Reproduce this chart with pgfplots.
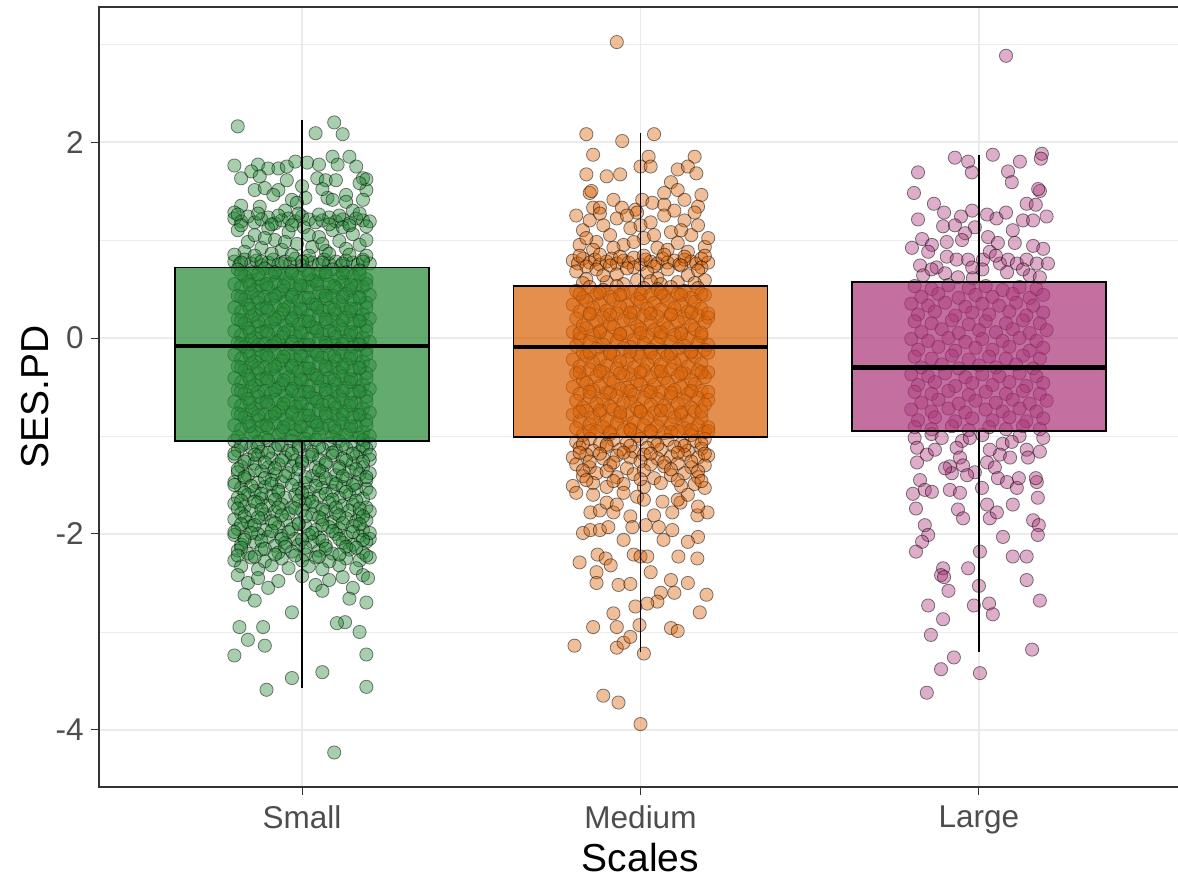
\documentclass[border=0pt]{standalone}
\usepackage{pgfplots}
\pgfplotsset{compat=1.18}
\usepgfplotslibrary{statistics}
\usepackage{fontspec}
\setmainfont{Liberation Sans}
\definecolor{cS}{HTML}{228833}
\definecolor{cM}{HTML}{D95F02}
\definecolor{cL}{HTML}{AA3377}
\definecolor{gridc}{HTML}{EBEBEB}
\definecolor{tickc}{HTML}{4D4D4D}
\definecolor{axc}{HTML}{333333}
\pgfplotsset{
  ptS/.style={only marks, mark=*, mark size=3.3pt, mark options={fill=cS, fill opacity=0.4, draw=black, draw opacity=0.5, line width=0.4pt}},
  ptM/.style={only marks, mark=*, mark size=3.3pt, mark options={fill=cM, fill opacity=0.4, draw=black, draw opacity=0.5, line width=0.4pt}},
  ptL/.style={only marks, mark=*, mark size=3.3pt, mark options={fill=cL, fill opacity=0.4, draw=black, draw opacity=0.5, line width=0.4pt}},
}
\begin{document}
\begin{tikzpicture}
\begin{axis}[
  scale only axis, width=541.5pt, height=390pt,
  xmin=0.4, xmax=3.6, ymin=-4.582, ymax=3.378,
  axis line style={draw=none},
  boxplot/draw direction=y,
  xtick={1,2,3}, xticklabels={Small,Medium,Large},
  ytick={-4,-2,0,2}, yticklabels={-4,-2,0,2},
  minor ytick={-3,-1,1,3},
  xmajorgrids, ymajorgrids, yminorgrids,
  major grid style={color=gridc, line width=0.7pt},
  minor grid style={color=gridc, line width=0.35pt},
  tick align=outside, tick pos=left,
  major tick length=4pt, minor tick length=0pt,
  tick style={color=axc, line width=0.5pt},
  ticklabel style={font=\fontsize{15.75}{18}\selectfont, text=tickc, inner sep=0pt},
  xticklabel style={anchor=north, yshift=-5pt},
  yticklabel style={anchor=east, xshift=-3.5pt},
  xlabel={Scales}, ylabel={SES.PD},
  every axis x label/.style={at={(axis description cs:0.5,-0.091)}, anchor=center, font=\fontsize{19.5}{23}\selectfont, text=black},
  every axis y label/.style={at={(axis description cs:-0.0591,0.5)}, anchor=center, rotate=90, font=\fontsize{19.5}{23}\selectfont, text=black},
  clip mode=individual,
]
\coordinate (sw) at (rel axis cs:0,0);
% ---------- Small points ----------
\addplot[ptS] coordinates {
(0.81,2.16)(1.04,2.09)(1.095,2.20)(1.12,2.08)
(0.80,1.76)(0.87,1.77)(0.90,1.73)(0.93,1.73)(0.955,1.75)(0.98,1.80)(1.015,1.79)(1.05,1.77)(1.09,1.85)(1.105,1.77)(1.14,1.85)(1.16,1.75)(1.18,1.63)(1.19,1.51)
(0.82,1.63)(0.85,1.70)(0.875,1.65)(0.86,1.51)(0.89,1.53)(0.93,1.51)(0.955,1.61)(1.045,1.63)(1.07,1.61)(1.10,1.61)(1.13,1.46)(1.075,1.43)(1.09,1.41)(1.01,1.43)(0.97,1.41)(0.915,1.46)(0.82,1.35)(1.18,1.41)(1.13,1.39)(0.985,1.38)(0.875,1.34)
(1.00,1.55)(1.06,1.52)(0.95,1.30)(1.15,1.30)(0.80,1.28)(1.19,1.62)(1.17,1.58)
(0.80,1.22)(0.82,1.19)(0.84,1.24)(0.86,1.18)(0.88,1.21)(0.90,1.23)(0.92,1.17)(0.94,1.20)(0.96,1.22)(0.98,1.19)(1.00,1.24)(1.02,1.21)(1.04,1.18)(1.06,1.20)(1.08,1.23)(1.10,1.19)(1.12,1.21)(1.14,1.17)(1.16,1.22)(1.18,1.20)(1.20,1.19)
(0.81,1.10)(0.84,0.98)(0.86,1.05)(0.88,0.92)(0.90,1.12)(0.92,1.00)(0.94,0.90)(0.96,1.08)(0.985,0.96)(1.005,1.13)(1.03,0.93)(1.05,1.03)(1.07,0.89)(1.09,1.10)(1.11,0.99)(1.13,0.91)(1.15,1.06)(1.17,0.95)(1.19,1.00)(0.83,0.88)(0.95,0.98)(1.02,1.05)(1.12,1.13)(0.89,1.02)(1.06,0.96)
(0.80,0.78)(0.815,0.75)(0.83,0.80)(0.85,0.76)(0.865,0.79)(0.88,0.74)(0.90,0.77)(0.915,0.80)(0.93,0.75)(0.95,0.78)(0.965,0.76)(0.98,0.81)(1.00,0.74)(1.015,0.79)(1.03,0.77)(1.05,0.75)(1.065,0.80)(1.08,0.76)(1.10,0.78)(1.115,0.74)(1.13,0.79)(1.15,0.77)(1.165,0.75)(1.18,0.80)(1.20,0.76)
(0.81,1.26)(0.87,1.27)(0.93,1.25)(0.99,1.27)(1.05,1.26)(1.11,1.25)(1.17,1.27)
(0.82,1.15)(0.91,1.16)(0.97,1.15)(1.08,1.16)(1.14,1.15)(1.19,1.14)
(0.80,0.85)(0.86,0.84)(0.91,0.86)(0.97,0.85)(1.02,0.84)(1.08,0.86)(1.14,0.85)(1.19,0.84)
(0.82,0.77)(0.88,0.78)(0.94,0.76)(1.00,0.78)(1.06,0.77)(1.12,0.76)(1.18,0.78)
(0.81,0.70)(0.85,0.67)(0.89,0.71)(0.93,0.66)(0.97,0.68)(1.01,0.69)(1.05,0.65)(1.09,0.70)(1.13,0.67)(1.17,0.69)
(0.83,0.63)(0.87,0.60)(0.91,0.64)(0.95,0.61)(0.99,0.62)(1.03,0.59)(1.07,0.64)(1.11,0.61)(1.15,0.63)(1.19,0.60)
(0.80,0.55)(0.84,0.58)(0.88,0.54)(0.92,0.57)(0.96,0.56)(1.00,0.53)(1.04,0.58)(1.08,0.55)(1.12,0.57)(1.16,0.54)
(0.82,0.52)(0.86,0.49)(0.90,0.51)(0.94,0.48)(0.98,0.50)(1.02,0.52)(1.06,0.47)(1.10,0.51)(1.14,0.49)(1.18,0.52)
(0.81,0.43)(0.85,0.46)(0.89,0.42)(0.93,0.45)(0.97,0.44)(1.01,0.41)(1.05,0.46)(1.09,0.43)(1.13,0.45)(1.17,0.42)(1.20,0.44)
(0.83,0.39)(0.87,0.36)(0.91,0.40)(0.95,0.37)(0.99,0.38)(1.03,0.35)(1.07,0.40)(1.11,0.37)(1.15,0.39)(1.19,0.36)
(0.80,0.31)(0.84,0.34)(0.88,0.30)(0.92,0.33)(0.96,0.32)(1.00,0.29)(1.04,0.34)(1.08,0.31)(1.12,0.33)(1.16,0.30)
(0.82,0.27)(0.86,0.24)(0.90,0.28)(0.94,0.25)(0.98,0.26)(1.02,0.23)(1.06,0.28)(1.10,0.25)(1.14,0.27)(1.18,0.24)
(0.81,0.19)(0.85,0.22)(0.89,0.18)(0.93,0.21)(0.97,0.20)(1.01,0.17)(1.05,0.22)(1.09,0.19)(1.13,0.21)(1.17,0.18)(1.20,0.20)
(0.83,0.15)(0.87,0.12)(0.91,0.16)(0.95,0.13)(0.99,0.14)(1.03,0.11)(1.07,0.16)(1.11,0.13)(1.15,0.15)(1.19,0.12)
(0.80,0.07)(0.84,0.10)(0.88,0.06)(0.92,0.09)(0.96,0.08)(1.00,0.05)(1.04,0.10)(1.08,0.07)(1.12,0.09)(1.16,0.06)
(0.82,0.03)(0.86,0.00)(0.90,0.04)(0.94,0.01)(0.98,0.02)(1.02,-0.01)(1.06,0.04)(1.10,0.01)(1.14,0.03)(1.18,0.00)
(0.81,-0.05)(0.85,-0.02)(0.89,-0.06)(0.93,-0.03)(0.97,-0.04)(1.01,-0.07)(1.05,-0.02)(1.09,-0.05)(1.13,-0.03)(1.17,-0.06)(1.20,-0.04)
(0.83,-0.09)(0.87,-0.12)(0.91,-0.08)(0.95,-0.11)(0.99,-0.10)(1.03,-0.13)(1.07,-0.08)(1.11,-0.11)(1.15,-0.09)(1.19,-0.12)
(0.80,-0.17)(0.84,-0.14)(0.88,-0.18)(0.92,-0.15)(0.96,-0.16)(1.00,-0.19)(1.04,-0.14)(1.08,-0.17)(1.12,-0.15)(1.16,-0.18)
(0.82,-0.21)(0.86,-0.24)(0.90,-0.20)(0.94,-0.23)(0.98,-0.22)(1.02,-0.25)(1.06,-0.20)(1.10,-0.23)(1.14,-0.21)(1.18,-0.24)
(0.81,-0.29)(0.85,-0.26)(0.89,-0.30)(0.93,-0.27)(0.97,-0.28)(1.01,-0.31)(1.05,-0.26)(1.09,-0.29)(1.13,-0.27)(1.17,-0.30)(1.20,-0.28)
(0.83,-0.33)(0.87,-0.36)(0.91,-0.32)(0.95,-0.35)(0.99,-0.34)(1.03,-0.37)(1.07,-0.32)(1.11,-0.35)(1.15,-0.33)(1.19,-0.36)
(0.80,-0.41)(0.84,-0.38)(0.88,-0.42)(0.92,-0.39)(0.96,-0.40)(1.00,-0.43)(1.04,-0.38)(1.08,-0.41)(1.12,-0.39)(1.16,-0.42)
(0.82,-0.45)(0.86,-0.48)(0.90,-0.44)(0.94,-0.47)(0.98,-0.46)(1.02,-0.49)(1.06,-0.44)(1.10,-0.47)(1.14,-0.45)(1.18,-0.48)
(0.81,-0.53)(0.85,-0.50)(0.89,-0.54)(0.93,-0.51)(0.97,-0.52)(1.01,-0.55)(1.05,-0.50)(1.09,-0.53)(1.13,-0.51)(1.17,-0.54)(1.20,-0.52)
(0.83,-0.57)(0.87,-0.60)(0.91,-0.56)(0.95,-0.59)(0.99,-0.58)(1.03,-0.61)(1.07,-0.56)(1.11,-0.59)(1.15,-0.57)(1.19,-0.60)
(0.80,-0.65)(0.84,-0.62)(0.88,-0.66)(0.92,-0.63)(0.96,-0.64)(1.00,-0.67)(1.04,-0.62)(1.08,-0.65)(1.12,-0.63)(1.16,-0.66)
(0.82,-0.69)(0.86,-0.72)(0.90,-0.68)(0.94,-0.71)(0.98,-0.70)(1.02,-0.73)(1.06,-0.68)(1.10,-0.71)(1.14,-0.69)(1.18,-0.72)
(0.81,-0.77)(0.85,-0.74)(0.89,-0.78)(0.93,-0.75)(0.97,-0.76)(1.01,-0.79)(1.05,-0.74)(1.09,-0.77)(1.13,-0.75)(1.17,-0.78)(1.20,-0.76)
(0.83,-0.81)(0.87,-0.84)(0.91,-0.80)(0.95,-0.83)(0.99,-0.82)(1.03,-0.85)(1.07,-0.80)(1.11,-0.83)(1.15,-0.81)(1.19,-0.84)
(0.80,-0.89)(0.84,-0.86)(0.88,-0.90)(0.92,-0.87)(0.96,-0.88)(1.00,-0.91)(1.04,-0.86)(1.08,-0.89)(1.12,-0.87)(1.16,-0.90)
(0.82,-0.93)(0.86,-0.96)(0.90,-0.92)(0.94,-0.95)(0.98,-0.94)(1.02,-0.97)(1.06,-0.92)(1.10,-0.95)(1.14,-0.93)(1.18,-0.96)
(0.81,-1.01)(0.85,-0.98)(0.89,-1.02)(0.93,-0.99)(0.97,-1.00)(1.01,-1.03)(1.05,-0.98)(1.09,-1.01)(1.13,-0.99)(1.17,-1.02)(1.20,-1.00)
};
\addplot[ptS] coordinates {
(0.82,0.66)(0.87,0.65)(0.92,0.67)(0.97,0.66)(1.02,0.65)(1.07,0.67)(1.12,0.66)(1.17,0.65)
(0.845,0.54)(0.895,0.55)(0.945,0.53)(0.995,0.54)(1.045,0.55)(1.095,0.53)(1.145,0.54)(1.19,0.55)
(0.82,0.42)(0.87,0.41)(0.92,0.43)(0.97,0.42)(1.02,0.41)(1.07,0.43)(1.12,0.42)(1.17,0.41)
(0.845,0.30)(0.895,0.31)(0.945,0.29)(0.995,0.30)(1.045,0.31)(1.095,0.29)(1.145,0.30)(1.19,0.31)
(0.82,0.18)(0.87,0.17)(0.92,0.19)(0.97,0.18)(1.02,0.17)(1.07,0.19)(1.12,0.18)(1.17,0.17)
(0.845,0.06)(0.895,0.07)(0.945,0.05)(0.995,0.06)(1.045,0.07)(1.095,0.05)(1.145,0.06)(1.19,0.07)
(0.82,-0.06)(0.87,-0.07)(0.92,-0.05)(0.97,-0.06)(1.02,-0.07)(1.07,-0.05)(1.12,-0.06)(1.17,-0.07)
(0.845,-0.18)(0.895,-0.17)(0.945,-0.19)(0.995,-0.18)(1.045,-0.17)(1.095,-0.19)(1.145,-0.18)(1.19,-0.17)
(0.82,-0.30)(0.87,-0.31)(0.92,-0.29)(0.97,-0.30)(1.02,-0.31)(1.07,-0.29)(1.12,-0.30)(1.17,-0.31)
(0.845,-0.42)(0.895,-0.41)(0.945,-0.43)(0.995,-0.42)(1.045,-0.41)(1.095,-0.43)(1.145,-0.42)(1.19,-0.41)
(0.82,-0.54)(0.87,-0.55)(0.92,-0.53)(0.97,-0.54)(1.02,-0.55)(1.07,-0.53)(1.12,-0.54)(1.17,-0.55)
(0.845,-0.66)(0.895,-0.65)(0.945,-0.67)(0.995,-0.66)(1.045,-0.65)(1.095,-0.67)(1.145,-0.66)(1.19,-0.65)
(0.82,-0.78)(0.87,-0.79)(0.92,-0.77)(0.97,-0.78)(1.02,-0.79)(1.07,-0.77)(1.12,-0.78)(1.17,-0.79)
(0.845,-0.90)(0.895,-0.89)(0.945,-0.91)(0.995,-0.90)(1.045,-0.89)(1.095,-0.91)(1.145,-0.90)(1.19,-0.89)
(0.80,-1.05)(0.83,-1.08)(0.87,-1.06)(0.90,-1.04)(0.94,-1.09)(0.97,-1.05)(1.01,-1.07)(1.04,-1.04)(1.08,-1.08)(1.11,-1.05)(1.15,-1.07)(1.18,-1.04)(1.20,-1.08)
(0.81,-1.15)(0.85,-1.12)(0.88,-1.16)(0.92,-1.13)(0.96,-1.15)(0.99,-1.12)(1.03,-1.16)(1.06,-1.13)(1.10,-1.15)(1.13,-1.12)(1.17,-1.16)(1.19,-1.13)
(0.80,-1.21)(0.84,-1.24)(0.87,-1.20)(0.91,-1.23)(0.95,-1.22)(0.98,-1.25)(1.02,-1.21)(1.05,-1.24)(1.09,-1.20)(1.12,-1.23)(1.16,-1.21)(1.20,-1.24)
(0.82,-1.31)(0.86,-1.28)(0.90,-1.32)(0.93,-1.29)(0.97,-1.31)(1.00,-1.28)(1.04,-1.32)(1.07,-1.29)(1.11,-1.31)(1.15,-1.28)(1.18,-1.32)
(0.81,-1.37)(0.84,-1.40)(0.88,-1.36)(0.92,-1.39)(0.96,-1.38)(1.03,-1.41)(1.06,-1.37)(1.10,-1.40)(1.14,-1.36)(1.17,-1.39)(1.20,-1.38)
(0.80,-1.47)(0.83,-1.44)(0.87,-1.48)(0.91,-1.45)(0.94,-1.47)(0.98,-1.44)(1.01,-1.48)(1.05,-1.45)(1.09,-1.47)(1.13,-1.44)(1.16,-1.48)(1.19,-1.45)
(0.82,-1.53)(0.86,-1.56)(0.89,-1.52)(0.93,-1.55)(0.99,-1.54)(1.02,-1.57)(1.06,-1.53)(1.09,-1.56)(1.12,-1.52)(1.16,-1.55)(1.19,-1.54)
(0.81,-1.63)(0.84,-1.60)(0.88,-1.64)(0.91,-1.61)(0.95,-1.63)(0.98,-1.60)(1.02,-1.64)(1.05,-1.61)(1.11,-1.63)(1.14,-1.60)(1.18,-1.64)
(0.80,-1.69)(0.83,-1.72)(0.87,-1.68)(0.90,-1.71)(0.94,-1.70)(0.97,-1.73)(1.01,-1.69)(1.04,-1.72)(1.08,-1.68)(1.12,-1.71)(1.15,-1.70)(1.19,-1.73)
(0.82,-1.79)(0.85,-1.76)(0.89,-1.80)(0.92,-1.77)(0.96,-1.79)(1.00,-1.76)(1.03,-1.80)(1.07,-1.77)(1.10,-1.79)(1.14,-1.76)(1.17,-1.80)(1.20,-1.77)
(0.80,-1.85)(0.84,-1.88)(0.88,-1.84)(0.91,-1.87)(0.95,-1.86)(0.99,-1.89)(1.06,-1.85)(1.09,-1.88)(1.13,-1.84)(1.16,-1.87)(1.19,-1.86)
(0.81,-1.95)(0.85,-1.92)(0.89,-1.96)(0.93,-1.93)(0.97,-1.95)(1.01,-1.92)(1.04,-1.96)(1.08,-1.93)(1.11,-1.95)(1.15,-1.92)(1.18,-1.96)
(0.80,-2.01)(0.83,-2.04)(0.87,-2.00)(0.90,-2.03)(0.94,-2.02)(0.98,-2.05)(1.02,-2.01)(1.05,-2.04)(1.10,-2.00)(1.13,-2.03)(1.17,-2.02)(1.20,-2.05)
(0.82,-2.11)(0.86,-2.08)(0.92,-2.12)(0.95,-2.09)(0.99,-2.11)(1.03,-2.08)(1.07,-2.12)(1.12,-2.09)(1.15,-2.11)(1.19,-2.08)
(0.81,-2.17)(0.84,-2.20)(0.88,-2.16)(0.93,-2.19)(0.97,-2.18)(1.01,-2.21)(1.05,-2.17)(1.09,-2.20)(1.14,-2.16)(1.18,-2.19)
(0.80,-2.27)(0.85,-2.24)(0.89,-2.28)(0.94,-2.25)(1.00,-2.27)(1.04,-2.24)(1.08,-2.28)(1.13,-2.25)(1.17,-2.27)(1.20,-2.24)
(0.82,-2.33)(0.87,-2.36)(0.91,-2.32)(0.96,-2.35)(1.02,-2.33)(1.06,-2.36)(1.11,-2.32)(1.16,-2.35)
(0.81,-2.42)(0.84,-2.50)(0.87,-2.45)(0.90,-2.55)(0.93,-2.48)(1.00,-2.43)(1.04,-2.52)(1.08,-2.47)(1.12,-2.44)(1.15,-2.55)(1.18,-2.42)(1.195,-2.45)(0.83,-2.62)(0.86,-2.68)(1.06,-2.58)(1.14,-2.66)(1.19,-2.70)
(0.815,-2.95)(0.885,-2.95)(0.97,-2.80)(1.127,-2.90)(1.103,-2.91)(0.84,-3.08)(0.89,-3.14)(1.17,-3.00)(0.80,-3.24)(1.19,-3.23)(0.895,-3.59)(0.97,-3.47)(1.06,-3.41)(1.19,-3.56)(1.095,-4.23)
(0.82,-1.10)(0.87,-1.11)(0.93,-1.09)(0.99,-1.10)(1.05,-1.11)(1.12,-1.09)(1.18,-1.10)
(0.80,-1.18)(0.86,-1.19)(0.90,-1.17)(0.97,-1.18)(1.03,-1.19)(1.09,-1.17)(1.15,-1.18)(1.20,-1.19)
(0.83,-1.26)(0.89,-1.27)(0.94,-1.25)(1.00,-1.26)(1.07,-1.27)(1.13,-1.25)(1.18,-1.26)
(0.81,-1.34)(0.86,-1.35)(0.92,-1.33)(0.99,-1.34)(1.05,-1.35)(1.11,-1.33)(1.16,-1.34)
(0.83,-1.42)(0.89,-1.43)(0.95,-1.41)(1.01,-1.42)(1.07,-1.43)(1.12,-1.41)(1.19,-1.42)
(0.80,-1.50)(0.85,-1.51)(0.91,-1.49)(0.97,-1.50)(1.04,-1.51)(1.10,-1.49)(1.15,-1.50)
(0.83,-1.58)(0.88,-1.59)(0.93,-1.57)(1.00,-1.58)(1.07,-1.59)(1.13,-1.57)(1.20,-1.58)
(0.82,-1.66)(0.86,-1.67)(0.92,-1.65)(0.99,-1.66)(1.03,-1.67)(1.09,-1.65)(1.16,-1.66)
(0.81,-1.74)(0.88,-1.75)(0.93,-1.73)(0.98,-1.74)(1.06,-1.75)(1.10,-1.73)(1.17,-1.74)
(0.83,-1.82)(0.87,-1.83)(0.94,-1.81)(1.01,-1.82)(1.05,-1.83)(1.11,-1.81)(1.18,-1.82)
(0.82,-1.90)(0.86,-1.91)(0.92,-1.89)(0.99,-1.90)(1.06,-1.91)(1.12,-1.89)(1.17,-1.90)
(0.80,-1.98)(0.85,-1.99)(0.91,-1.97)(0.96,-1.98)(1.03,-1.99)(1.09,-1.97)(1.15,-1.98)(1.20,-1.99)
(0.83,-2.06)(0.88,-2.07)(0.94,-2.05)(1.00,-2.06)(1.06,-2.07)(1.11,-2.05)(1.18,-2.06)
(0.82,-2.14)(0.89,-2.15)(0.95,-2.13)(1.01,-2.14)(1.07,-2.15)(1.13,-2.13)(1.16,-2.14)
(0.81,-2.22)(0.86,-2.23)(0.92,-2.21)(0.98,-2.22)(1.05,-2.23)(1.11,-2.21)(1.19,-2.22)
};
% ---------- Medium points ----------
\addplot[ptM] coordinates {
(1.93,3.02)(1.84,2.08)(1.946,2.01)(2.04,2.08)(1.86,1.87)(2.024,1.85)(2.16,1.85)(2.00,1.75)(2.03,1.75)(2.11,1.72)(2.14,1.75)(2.165,1.68)(1.84,1.67)(1.90,1.65)(1.94,1.67)(2.09,1.59)(2.11,1.51)(2.18,1.46)(1.85,1.48)(1.855,1.50)(2.07,1.48)(2.13,1.41)(2.17,1.34)(1.92,1.41)(1.86,1.33)(1.88,1.33)(1.945,1.33)(1.985,1.31)(2.005,1.41)(2.035,1.38)(2.07,1.36)
(1.81,1.25)(1.83,1.10)(1.85,1.20)(1.87,0.98)(1.89,1.15)(1.91,1.05)(1.93,1.22)(1.95,0.95)(1.97,1.12)(1.99,1.28)(2.01,1.02)(2.03,1.18)(2.05,0.92)(2.07,1.25)(2.09,1.08)(2.11,0.97)(2.13,1.20)(2.15,1.05)(2.17,1.15)(2.19,0.93)(1.82,0.95)(1.86,0.90)(1.92,0.92)(1.96,1.25)(2.00,1.15)(2.04,1.05)(2.08,0.90)(2.12,1.10)(2.16,1.28)(2.20,1.02)(1.88,1.27)(1.98,0.98)(2.10,1.30)(1.84,1.02)(2.14,0.88)
(1.80,0.79)(1.815,0.76)(1.83,0.81)(1.85,0.77)(1.865,0.80)(1.88,0.75)(1.90,0.78)(1.915,0.81)(1.93,0.76)(1.95,0.79)(1.965,0.77)(1.98,0.82)(2.00,0.75)(2.015,0.80)(2.03,0.78)(2.05,0.76)(2.065,0.81)(2.08,0.77)(2.10,0.79)(2.115,0.75)(2.13,0.80)(2.15,0.78)(2.165,0.76)(2.18,0.81)(2.20,0.77)
(1.82,0.84)(1.88,0.85)(1.94,0.83)(2.01,0.84)(2.07,0.85)(2.13,0.83)(2.19,0.84)
(1.84,0.73)(1.91,0.74)(1.98,0.72)(2.04,0.73)(2.12,0.74)(2.18,0.72)
(1.81,0.68)(1.84,0.60)(1.87,0.70)(1.90,0.57)(1.93,0.65)(1.96,0.71)(1.99,0.59)(2.02,0.67)(2.05,0.61)(2.08,0.70)(2.11,0.57)(2.14,0.64)(2.17,0.69)(2.19,0.59)(1.83,0.56)(1.95,0.55)(2.06,0.55)(2.16,0.56)(1.89,0.64)(2.03,0.58)
(1.81,0.48)(1.85,0.52)(1.89,0.49)(1.93,0.53)(1.97,0.47)(2.01,0.51)(2.05,0.50)(2.09,0.52)(2.13,0.48)(2.17,0.51)
(1.83,0.41)(1.87,0.45)(1.91,0.42)(1.95,0.46)(1.99,0.40)(2.03,0.44)(2.07,0.43)(2.11,0.45)(2.15,0.41)(2.19,0.44)
(1.80,0.34)(1.84,0.38)(1.88,0.35)(1.92,0.39)(1.96,0.33)(2.00,0.37)(2.04,0.36)(2.08,0.38)(2.12,0.34)(2.16,0.37)
(1.82,0.27)(1.86,0.31)(1.90,0.28)(1.94,0.32)(1.98,0.26)(2.02,0.30)(2.06,0.29)(2.10,0.31)(2.14,0.27)(2.18,0.30)
(1.81,0.20)(1.85,0.24)(1.89,0.21)(1.93,0.25)(1.97,0.19)(2.01,0.23)(2.05,0.22)(2.09,0.24)(2.13,0.20)(2.17,0.23)(2.20,0.21)
(1.83,0.13)(1.87,0.17)(1.91,0.14)(1.95,0.18)(1.99,0.12)(2.03,0.16)(2.07,0.15)(2.11,0.17)(2.15,0.13)(2.19,0.16)
(1.80,0.06)(1.84,0.10)(1.88,0.07)(1.92,0.11)(1.96,0.05)(2.00,0.09)(2.04,0.08)(2.08,0.10)(2.12,0.06)(2.16,0.09)
(1.82,-0.01)(1.86,0.03)(1.90,0.00)(1.94,0.04)(1.98,-0.02)(2.02,0.02)(2.06,0.01)(2.10,0.03)(2.14,-0.01)(2.18,0.02)
(1.81,-0.08)(1.85,-0.04)(1.89,-0.07)(1.93,-0.03)(1.97,-0.09)(2.01,-0.05)(2.05,-0.06)(2.09,-0.04)(2.13,-0.08)(2.17,-0.05)(2.20,-0.07)
(1.83,-0.15)(1.87,-0.11)(1.91,-0.14)(1.95,-0.10)(1.99,-0.16)(2.03,-0.12)(2.07,-0.13)(2.11,-0.11)(2.15,-0.15)(2.19,-0.12)
(1.80,-0.22)(1.84,-0.18)(1.88,-0.21)(1.92,-0.17)(1.96,-0.23)(2.00,-0.19)(2.04,-0.20)(2.08,-0.18)(2.12,-0.22)(2.16,-0.19)
(1.82,-0.29)(1.86,-0.25)(1.90,-0.28)(1.94,-0.24)(1.98,-0.30)(2.02,-0.26)(2.06,-0.27)(2.10,-0.25)(2.14,-0.29)(2.18,-0.26)
(1.81,-0.36)(1.85,-0.32)(1.89,-0.35)(1.93,-0.31)(1.97,-0.37)(2.01,-0.33)(2.05,-0.34)(2.09,-0.32)(2.13,-0.36)(2.17,-0.33)(2.20,-0.35)
(1.83,-0.43)(1.87,-0.39)(1.91,-0.42)(1.95,-0.38)(1.99,-0.44)(2.03,-0.40)(2.07,-0.41)(2.11,-0.39)(2.15,-0.43)(2.19,-0.40)
(1.80,-0.50)(1.84,-0.46)(1.88,-0.49)(1.92,-0.45)(1.96,-0.51)(2.00,-0.47)(2.04,-0.48)(2.08,-0.46)(2.12,-0.50)(2.16,-0.47)
(1.82,-0.57)(1.86,-0.53)(1.90,-0.56)(1.94,-0.52)(1.98,-0.58)(2.02,-0.54)(2.06,-0.55)(2.10,-0.53)(2.14,-0.57)(2.18,-0.54)
(1.81,-0.64)(1.85,-0.60)(1.89,-0.63)(1.93,-0.59)(1.97,-0.65)(2.01,-0.61)(2.05,-0.62)(2.09,-0.60)(2.13,-0.64)(2.17,-0.61)(2.20,-0.63)
(1.83,-0.71)(1.87,-0.67)(1.91,-0.70)(1.95,-0.66)(1.99,-0.72)(2.03,-0.68)(2.07,-0.69)(2.11,-0.67)(2.15,-0.71)(2.19,-0.68)
(1.80,-0.78)(1.84,-0.74)(1.88,-0.77)(1.92,-0.73)(1.96,-0.79)(2.00,-0.75)(2.04,-0.76)(2.08,-0.74)(2.12,-0.78)(2.16,-0.75)
(1.82,-0.85)(1.86,-0.81)(1.90,-0.84)(1.94,-0.80)(1.98,-0.86)(2.02,-0.82)(2.06,-0.83)(2.10,-0.81)(2.14,-0.85)(2.18,-0.82)
(1.81,-0.92)(1.85,-0.88)(1.89,-0.91)(1.93,-0.87)(1.97,-0.93)(2.01,-0.89)(2.05,-0.90)(2.09,-0.88)(2.13,-0.92)(2.17,-0.89)(2.20,-0.91)
(1.83,-0.99)(1.87,-0.95)(1.91,-0.98)(1.95,-0.94)(1.99,-1.00)(2.03,-0.96)(2.07,-0.97)(2.11,-0.95)(2.15,-0.99)(2.19,-0.96)
(1.82,0.45)(1.88,0.46)(1.94,0.44)(2.00,0.45)(2.06,0.46)(2.12,0.44)(2.18,0.45)
(1.85,0.25)(1.91,0.24)(1.97,0.26)(2.03,0.25)(2.09,0.24)(2.15,0.26)(2.20,0.25)
(1.82,0.05)(1.88,0.06)(1.94,0.04)(2.00,0.05)(2.06,0.06)(2.12,0.04)(2.18,0.05)
(1.85,-0.15)(1.91,-0.16)(1.97,-0.14)(2.03,-0.15)(2.09,-0.16)(2.15,-0.14)(2.20,-0.15)
(1.82,-0.35)(1.88,-0.34)(1.94,-0.36)(2.00,-0.35)(2.06,-0.34)(2.12,-0.36)(2.18,-0.35)
(1.85,-0.55)(1.91,-0.56)(1.97,-0.54)(2.03,-0.55)(2.09,-0.56)(2.15,-0.54)(2.20,-0.55)
(1.82,-0.75)(1.88,-0.74)(1.94,-0.76)(2.00,-0.75)(2.06,-0.74)(2.12,-0.76)(2.18,-0.75)
(1.85,-0.95)(1.91,-0.96)(1.97,-0.94)(2.03,-0.95)(2.09,-0.96)(2.15,-0.94)(2.20,-0.95)
(1.81,-1.06)(1.85,-1.03)(1.88,-1.08)(1.92,-1.04)(1.96,-1.07)(2.00,-1.03)(2.04,-1.06)(2.08,-1.04)(2.12,-1.08)(2.16,-1.05)(2.19,-1.03)
(1.82,-1.12)(1.86,-1.15)(1.90,-1.11)(1.94,-1.14)(1.98,-1.16)(2.02,-1.12)(2.06,-1.14)(2.10,-1.11)(2.14,-1.15)(2.18,-1.13)
(1.80,-1.22)(1.84,-1.19)(1.89,-1.23)(1.93,-1.20)(1.97,-1.22)(2.01,-1.19)(2.05,-1.23)(2.09,-1.21)(2.13,-1.19)(2.17,-1.22)(2.20,-1.20)
(1.81,-1.29)(1.85,-1.32)(1.91,-1.30)(1.96,-1.33)(2.03,-1.29)(2.07,-1.31)(2.11,-1.28)(2.15,-1.32)(2.19,-1.30)
(1.83,-1.41)(1.87,-1.38)(1.93,-1.42)(1.98,-1.39)(2.04,-1.43)(2.09,-1.40)(2.13,-1.38)(2.17,-1.42)
(1.80,-1.51)(1.86,-1.48)(1.90,-1.52)(1.95,-1.49)(2.01,-1.52)(2.06,-1.48)(2.12,-1.51)(2.16,-1.49)(2.19,-1.53)
(1.83,-1.08)(1.90,-1.09)(1.97,-1.10)(2.05,-1.09)(2.13,-1.10)(2.18,-1.08)
(1.82,-1.17)(1.88,-1.18)(1.95,-1.17)(2.03,-1.18)(2.11,-1.17)(2.19,-1.18)
(1.85,-1.26)(1.92,-1.27)(2.00,-1.26)(2.07,-1.27)(2.15,-1.26)
(1.83,-1.35)(1.90,-1.36)(2.01,-1.35)(2.09,-1.34)(2.17,-1.36)
(1.84,-1.45)(1.92,-1.46)(2.00,-1.44)(2.11,-1.45)(2.18,-1.46)
(1.852,-1.78)(1.88,-1.76)(1.90,-1.68)(1.92,-1.78)(1.95,-1.58)(1.97,-1.82)(1.976,-1.93)(2.015,-1.91)(2.04,-1.81)(2.054,-1.93)(2.065,-1.67)(2.118,-1.68)(2.094,-1.78)(2.168,-1.81)(2.198,-1.78)(2.17,-2.03)(2.14,-2.08)(2.068,-2.06)(2.094,-1.96)(1.83,-1.99)(1.852,-1.96)(1.88,-1.96)(1.905,-1.93)(1.95,-2.06)(1.873,-2.21)(1.897,-2.25)(1.912,-2.32)(1.98,-2.21)(2.00,-2.23)(2.02,-2.23)(2.112,-2.23)(2.168,-2.25)(1.81,-1.58)(1.86,-1.60)(1.99,-1.62)(2.01,-1.65)(2.11,-1.65)(2.17,-1.72)(2.14,-1.60)(1.93,-1.70)
(1.82,-2.29)(1.87,-2.39)(1.87,-2.50)(1.935,-2.52)(1.97,-2.51)(2.03,-2.39)(2.09,-2.47)(2.14,-2.50)(2.10,-2.60)(2.06,-2.60)(2.05,-2.69)(2.02,-2.71)(1.985,-2.74)(2.195,-2.62)(2.175,-2.80)(1.92,-2.81)(1.86,-2.95)(1.93,-2.95)(1.997,-2.93)(2.09,-2.96)(2.11,-2.99)(1.805,-3.14)(1.93,-3.16)(1.95,-3.11)(1.97,-3.05)(2.01,-3.22)(1.89,-3.65)(1.935,-3.72)(2.00,-3.94)
};
% ---------- Large points ----------
\addplot[ptL] coordinates {
(3.08,2.88)(2.929,1.84)(2.968,1.80)(2.979,1.69)(3.041,1.87)(3.121,1.80)(3.086,1.70)(3.097,1.59)(3.186,1.88)(3.183,1.83)(2.82,1.69)(2.808,1.48)(3.18,1.50)(3.175,1.52)(2.867,1.37)(2.897,1.28)(2.82,1.21)(2.947,1.24)(2.98,1.30)(3.024,1.26)(3.052,1.22)(3.08,1.28)(3.141,1.37)(3.168,1.36)(3.13,1.20)(3.16,1.20)(3.20,1.24)(2.894,1.14)(2.929,1.15)(2.988,1.13)(2.959,1.07)(2.802,0.92)(2.832,1.01)(2.861,0.95)(2.905,0.98)(2.95,1.00)(3.027,1.03)(3.056,0.97)(3.10,1.10)(3.106,0.97)(3.16,0.94)(3.19,0.91)
(2.826,0.74)(2.85,0.88)(2.875,0.72)(2.905,0.83)(2.934,0.80)(2.968,0.80)(3.012,0.80)(3.032,0.88)(3.062,0.76)(3.086,0.80)(3.112,0.76)(3.141,0.80)(3.171,0.76)(3.204,0.76)(2.835,0.64)(2.938,0.62)(2.982,0.61)(3.083,0.67)(3.15,0.64)(3.18,0.62)(2.86,0.70)(2.90,0.66)(3.01,0.70)(3.13,0.70)(3.05,0.84)(2.98,0.72)
(2.81,0.53)(2.86,0.50)(2.91,0.54)(2.97,0.51)(3.02,0.53)(3.07,0.49)(3.12,0.52)(3.17,0.50)
(2.83,0.42)(2.88,0.45)(2.94,0.41)(2.99,0.44)(3.04,0.42)(3.10,0.45)(3.15,0.41)(3.19,0.44)
(2.80,0.35)(2.85,0.33)(2.90,0.36)(2.96,0.32)(3.01,0.35)(3.06,0.33)(3.11,0.36)(3.16,0.33)
(2.82,0.24)(2.87,0.27)(2.93,0.23)(2.98,0.26)(3.03,0.24)(3.09,0.27)(3.14,0.23)(3.19,0.26)
(2.81,0.17)(2.86,0.15)(2.92,0.18)(2.97,0.14)(3.02,0.17)(3.08,0.15)(3.13,0.18)(3.18,0.15)
(2.83,0.06)(2.89,0.09)(2.94,0.05)(3.00,0.08)(3.05,0.06)(3.10,0.09)(3.15,0.05)(3.20,0.08)
(2.80,-0.01)(2.85,-0.03)(2.91,0.00)(2.96,-0.04)(3.01,-0.01)(3.07,-0.03)(3.12,0.00)(3.17,-0.03)
(2.82,-0.12)(2.88,-0.09)(2.93,-0.13)(2.99,-0.10)(3.04,-0.12)(3.09,-0.09)(3.15,-0.13)(3.19,-0.10)
(2.81,-0.19)(2.86,-0.21)(2.92,-0.18)(2.97,-0.22)(3.03,-0.19)(3.08,-0.21)(3.13,-0.18)(3.18,-0.21)
(2.83,-0.30)(2.89,-0.27)(2.94,-0.31)(3.00,-0.28)(3.05,-0.30)(3.11,-0.27)(3.16,-0.31)
(2.80,-0.37)(2.85,-0.39)(2.90,-0.36)(2.96,-0.40)(3.01,-0.37)(3.06,-0.39)(3.12,-0.36)(3.17,-0.39)
(2.82,-0.48)(2.87,-0.45)(2.93,-0.49)(2.98,-0.46)(3.04,-0.48)(3.09,-0.45)(3.14,-0.49)(3.19,-0.46)
(2.81,-0.55)(2.86,-0.57)(2.91,-0.54)(2.97,-0.58)(3.02,-0.55)(3.08,-0.57)(3.13,-0.54)(3.18,-0.57)
(2.83,-0.66)(2.88,-0.63)(2.94,-0.67)(2.99,-0.64)(3.05,-0.66)(3.10,-0.63)(3.15,-0.67)(3.20,-0.64)
(2.80,-0.73)(2.86,-0.75)(2.91,-0.72)(2.96,-0.76)(3.02,-0.73)(3.07,-0.75)(3.12,-0.72)(3.17,-0.75)
(2.82,-0.84)(2.87,-0.81)(2.93,-0.85)(2.98,-0.82)(3.04,-0.84)(3.09,-0.81)(3.14,-0.85)(3.19,-0.82)
(2.81,-0.91)(2.86,-0.93)(2.92,-0.90)(2.97,-0.94)(3.03,-0.91)(3.08,-0.93)(3.13,-0.90)(3.18,-0.93)
(2.86,-0.98)(2.95,-1.05)(3.01,-0.99)(3.12,-1.00)(3.07,-1.08)
(2.81,-1.02)(2.817,-1.12)(2.817,-1.27)(2.846,-1.19)(2.87,-1.14)(2.89,-1.02)(2.934,-1.12)(2.944,-1.22)(2.914,-1.31)(2.953,-1.30)(2.973,-1.02)(2.988,-1.37)(2.965,-1.40)(2.92,-1.38)(2.90,-1.33)(3.024,-1.27)(3.047,-1.32)(3.062,-1.19)(3.092,-1.22)(3.097,-1.06)(3.032,-1.14)(3.141,-1.14)(3.18,-1.16)(3.19,-1.02)(3.145,-1.22)(3.056,-1.43)(3.083,-1.47)(3.112,-1.53)(3.118,-1.43)(3.171,-1.47)(3.168,-1.43)(2.826,-1.45)(2.805,-1.59)(2.84,-1.55)(2.861,-1.57)(2.914,-1.55)(2.944,-1.58)(3.009,-1.53)(2.814,-1.74)(2.938,-1.75)(2.953,-1.84)(3.024,-1.70)(3.032,-1.84)(3.053,-1.78)(3.10,-1.70)(3.174,-1.63)(3.16,-1.86)(3.177,-1.91)(3.174,-2.01)(2.84,-1.91)(2.85,-2.01)(2.832,-2.08)(2.814,-2.18)(3.071,-2.03)(3.003,-2.18)(3.10,-2.23)(3.141,-2.23)(2.894,-2.35)(2.888,-2.42)(2.897,-2.44)(2.968,-2.35)(2.91,-2.58)(3.00,-2.53)(3.141,-2.47)(3.18,-2.68)(2.85,-2.73)(2.985,-2.73)(3.03,-2.71)(3.041,-2.82)(2.894,-2.87)(2.858,-3.03)(3.157,-3.18)(2.926,-3.26)(2.888,-3.38)(3.003,-3.42)(2.846,-3.62)
};
% ---------- Boxes ----------
\addplot[draw=black, boxplot prepared={draw position=1, median=-0.08, upper quartile=0.72, lower quartile=-1.05, upper whisker=2.22, lower whisker=-3.57, box extend=0.75, whisker extend=0,
  every box/.style={draw=black, line width=0.9pt, fill=cS, fill opacity=0.7},
  every median/.style={line width=2.2pt}, every whisker/.style={line width=0.9pt}}] coordinates {};
\addplot[draw=black, boxplot prepared={draw position=2, median=-0.09, upper quartile=0.53, lower quartile=-1.01, upper whisker=2.09, lower whisker=-3.20, box extend=0.75, whisker extend=0,
  every box/.style={draw=black, line width=0.9pt, fill=cM, fill opacity=0.7},
  every median/.style={line width=2.2pt}, every whisker/.style={line width=0.9pt}}] coordinates {};
\addplot[draw=black, boxplot prepared={draw position=3, median=-0.30, upper quartile=0.57, lower quartile=-0.95, upper whisker=1.87, lower whisker=-3.20, box extend=0.75, whisker extend=0,
  every box/.style={draw=black, line width=0.9pt, fill=cL, fill opacity=0.7},
  every median/.style={line width=2.2pt}, every whisker/.style={line width=0.9pt}}] coordinates {};
\end{axis}
\draw[axc, line width=0.65pt] ([shift={(541.5pt,0pt)}]sw) -- (sw) -- ([shift={(0pt,390pt)}]sw) -- ([shift={(541.5pt,390pt)}]sw);
\pgfresetboundingbox
\path ([shift={(-49.5pt,-47pt)}]sw) rectangle ([shift={(539.5pt,393.5pt)}]sw);
\end{tikzpicture}
\end{document}
